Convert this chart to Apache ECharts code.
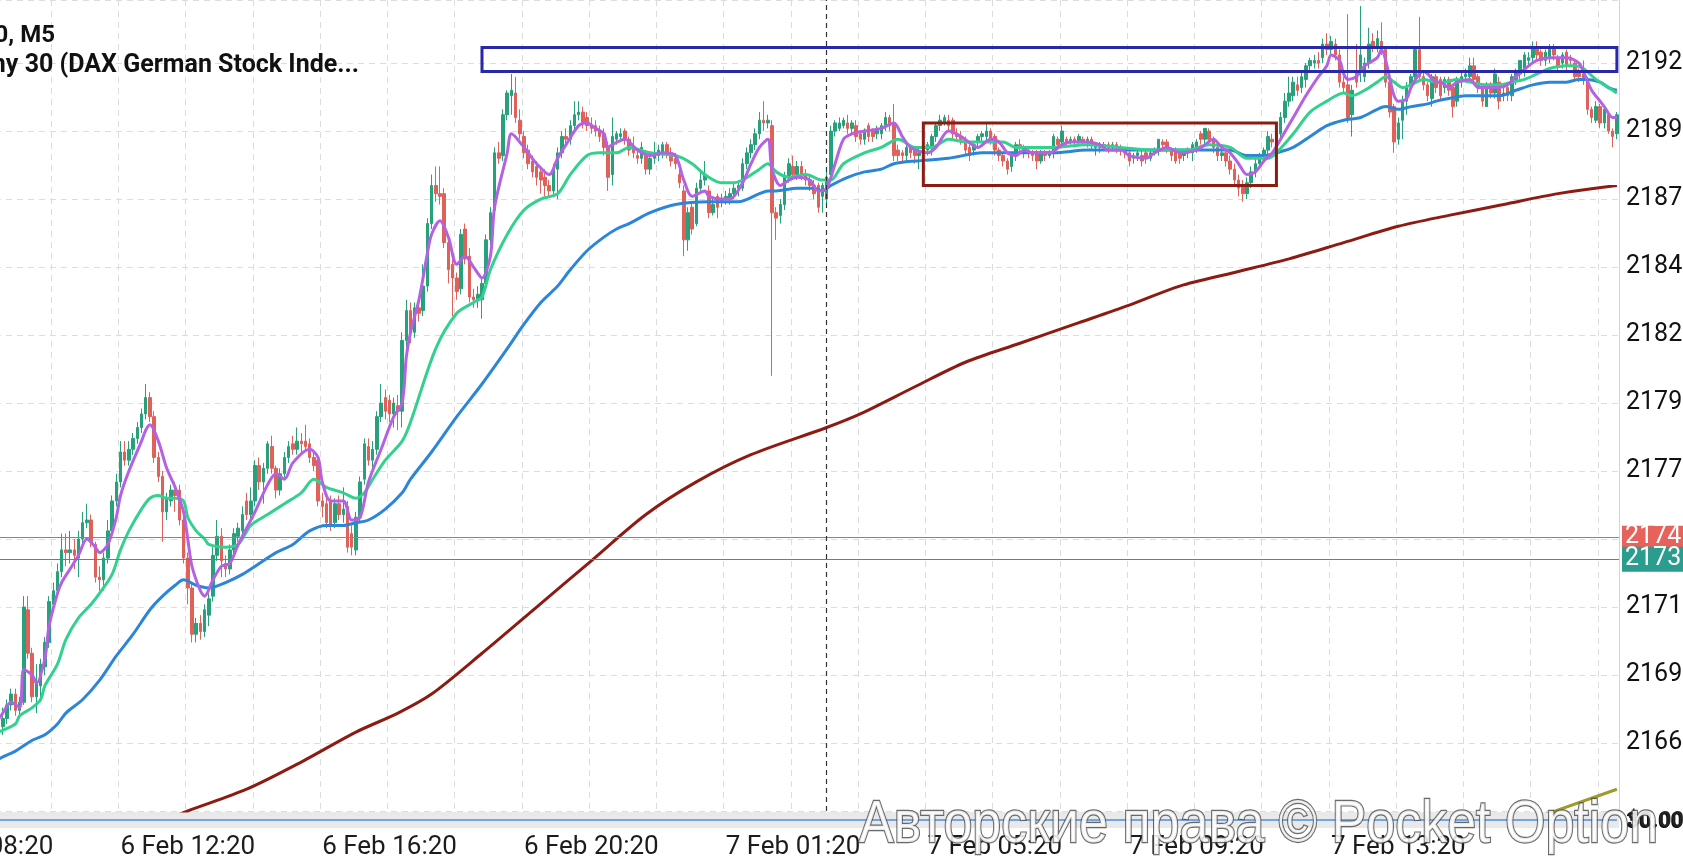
<!DOCTYPE html>
<html>
<head>
<meta charset="utf-8">
<script src="https://cdn.jsdelivr.net/npm/echarts@6/dist/echarts.min.js"></script>
<style>html,body{margin:0;padding:0;background:#fff;}#c{width:1683px;height:864px;}</style>
</head>
<body>
<div id="c"></div>
<script>
// ---- tick labels / annotations ----
const yTickValues = [21925,21900,21875,21850,21825,21800,21775,21750,21725,21700,21675];
const yTickLabels = ['2192','2189','2187','2184','2182','2179','2177','2174','2171','2169','2166'];
const priceLevels = [21750.7, 21742.6];
const priceTags = ['2174','2173'];
const blueZone = [21930.7, 21921.9];
const redZone = [21903, 21880];
const titleLines = ['GER30, M5', 'Germany 30 (DAX German Stock Inde...'];
const watermark = 'Авторские права © Pocket Option';
const crossIndex = 200;

// ---- candles [open, close, low, high], one array per 4h session ----
const s0820 = [[21690,21686,21683,21693],[21686,21682,21679,21688],[21682,21685,21678,21687],[21685,21681,21676,21688],[21681,21684,21678,21688],[21684,21689,21682,21691],[21689,21693,21687,21695],[21693,21687,21685,21695],[21687,21690,21684,21692],[21690,21725,21689,21729],
[21724,21708,21706,21729],[21708,21692,21690,21710],[21692,21697,21686,21704],[21696,21704,21690,21706],[21703,21712,21700,21714],[21712,21727,21710,21729],[21726,21731,21723,21734],[21731,21738,21729,21741],[21738,21746,21736,21752],[21746,21745,21740,21752],
[21745,21746,21741,21753],[21746,21744,21739,21750],[21743,21750,21736,21753],[21750,21756,21748,21760],[21756,21757,21754,21763],[21757,21749,21747,21759],[21748,21736,21734,21749],[21736,21735,21731,21740],[21735,21743,21731,21745],[21743,21753,21741,21757],
[21753,21764,21751,21766],[21764,21771,21762,21774],[21771,21782,21769,21786],[21782,21779,21777,21786],[21779,21783,21777,21786],[21783,21787,21781,21789],[21787,21791,21785,21793],[21791,21796,21789,21798],[21796,21802,21794,21807],[21802,21795,21793,21804],
[21795,21780,21778,21797],[21780,21773,21771,21782],[21773,21760,21749,21775],[21760,21765,21757,21767],[21764,21768,21762,21770],[21768,21766,21760,21771],[21768,21757,21755,21770],[21757,21743,21741,21759]];
const s1220 = [[21743,21732,21726,21745],[21732,21715,21712,21734],[21715,21719,21712,21721],[21719,21716,21713,21722],[21716,21724,21714,21726],[21722,21728,21718,21730],[21729,21744,21727,21747],[21744,21751,21742,21757],[21751,21742,21736,21754],[21741,21739,21736,21744],
[21739,21746,21737,21748],[21746,21752,21744,21754],[21751,21754,21749,21756],[21753,21759,21751,21762],[21764,21759,21757,21767],[21759,21764,21756,21769],[21764,21777,21762,21779],[21777,21771,21768,21780],[21771,21776,21763,21778],[21776,21785,21774,21786],
[21784,21776,21774,21788],[21776,21768,21765,21777],[21768,21774,21766,21776],[21774,21780,21772,21782],[21780,21784,21778,21786],[21785,21783,21781,21788],[21783,21786,21781,21791],[21786,21785,21782,21789],[21786,21784,21782,21792],[21785,21780,21778,21787],
[21780,21777,21775,21782],[21779,21764,21762,21781],[21764,21762,21758,21767],[21763,21756,21754,21765],[21764,21755,21753,21766],[21756,21763,21754,21765],[21763,21759,21757,21766],[21759,21761,21756,21769],[21762,21747,21745,21764],[21752,21747,21744,21755],
[21746,21758,21744,21760],[21758,21771,21756,21773],[21772,21785,21770,21787],[21784,21779,21777,21787],[21779,21783,21776,21786],[21783,21795,21781,21797],[21795,21800,21793,21807],[21802,21797,21794,21805]];
const s1620 = [[21801,21796,21793,21803],[21796,21800,21791,21802],[21799,21797,21790,21803],[21797,21823,21791,21826],[21823,21834,21820,21838],[21834,21826,21822,21837],[21826,21835,21824,21837],[21835,21833,21830,21838],[21834,21843,21832,21851],[21843,21866,21841,21868],
[21866,21880,21864,21884],[21880,21877,21874,21887],[21877,21876,21873,21887],[21877,21859,21857,21879],[21859,21849,21844,21861],[21851,21846,21832,21853],[21846,21841,21838,21848],[21842,21862,21840,21864],[21864,21853,21851,21866],[21854,21839,21837,21857],
[21839,21838,21835,21842],[21838,21840,21835,21843],[21838,21844,21831,21846],[21844,21860,21842,21862],[21860,21870,21858,21872],[21871,21892,21869,21894],[21892,21890,21888,21896],[21891,21906,21889,21908],[21906,21914,21904,21915],[21913,21915,21906,21921],
[21914,21905,21903,21920],[21904,21899,21897,21908],[21898,21892,21890,21900],[21893,21888,21886,21895],[21889,21885,21883,21891],[21887,21883,21880,21889],[21885,21882,21877,21887],[21883,21880,21876,21886],[21880,21878,21876,21882],[21878,21886,21876,21888],
[21886,21892,21875,21894],[21892,21898,21890,21900],[21898,21897,21895,21901],[21897,21902,21895,21904],[21902,21906,21900,21911],[21906,21907,21904,21911],[21907,21903,21901,21909],[21905,21902,21900,21907]];
const s2020 = [[21902,21901,21899,21905],[21902,21900,21898,21904],[21900,21898,21896,21902],[21899,21894,21891,21901],[21894,21883,21878,21896],[21884,21898,21880,21905],[21897,21899,21895,21900],[21898,21899,21896,21901],[21900,21897,21895,21901],[21897,21893,21891,21898],
[21894,21892,21890,21898],[21891,21890,21888,21893],[21890,21894,21888,21896],[21891,21886,21884,21893],[21886,21890,21884,21892],[21890,21892,21888,21896],[21891,21893,21889,21895],[21892,21895,21890,21896],[21895,21892,21890,21896],[21892,21889,21887,21894],
[21890,21888,21886,21892],[21884,21881,21879,21886],[21878,21860,21854,21880],[21860,21870,21856,21872],[21872,21864,21862,21874],[21866,21879,21865,21881],[21879,21882,21877,21885],[21882,21884,21880,21889],[21878,21870,21868,21880],[21870,21873,21869,21876],
[21876,21872,21868,21877],[21874,21875,21872,21877],[21875,21876,21873,21878],[21875,21877,21873,21879],[21877,21879,21875,21881],[21879,21880,21876,21882],[21879,21888,21878,21890],[21888,21892,21886,21894],[21892,21895,21890,21897],[21895,21899,21893,21901],
[21899,21904,21897,21907],[21904,21903,21900,21911],[21903,21904,21901,21906],[21902,21870,21810,21904],[21870,21868,21860,21872],[21869,21873,21866,21875],[21873,21883,21871,21885],[21883,21888,21881,21890]];
const s0120 = [[21887,21884,21882,21891],[21884,21887,21882,21889],[21887,21884,21882,21889],[21884,21882,21880,21886],[21882,21880,21878,21884],[21880,21877,21875,21882],[21880,21872,21870,21881],[21876,21880,21870,21881],[21875,21883,21873,21885],[21884,21900,21882,21902],
[21900,21903,21898,21904],[21901,21903,21900,21905],[21902,21904,21901,21905],[21903,21901,21899,21906],[21901,21903,21899,21904],[21902,21898,21896,21904],[21899,21897,21895,21900],[21897,21900,21895,21901],[21902,21898,21896,21903],[21900,21898,21896,21901],
[21899,21901,21897,21902],[21899,21902,21897,21903],[21902,21905,21900,21907],[21905,21902,21900,21906],[21903,21891,21889,21910],[21893,21891,21889,21895],[21892,21891,21889,21893],[21891,21894,21889,21896],[21894,21892,21890,21895],[21893,21891,21888,21894],
[21891,21892,21886,21894],[21892,21893,21890,21895],[21893,21895,21891,21896],[21894,21898,21891,21899],[21898,21902,21896,21903],[21902,21904,21900,21906],[21903,21905,21902,21906],[21904,21902,21900,21906],[21904,21899,21897,21905],[21899,21898,21896,21901],
[21898,21897,21895,21900],[21897,21893,21891,21898],[21894,21891,21889,21895],[21893,21895,21891,21896],[21896,21898,21894,21899],[21898,21899,21896,21900],[21898,21900,21896,21903],[21900,21897,21895,21901]];
const s0520 = [[21898,21893,21891,21899],[21893,21891,21889,21894],[21891,21889,21887,21892],[21889,21886,21884,21890],[21887,21891,21885,21892],[21891,21895,21889,21896],[21895,21894,21892,21897],[21894,21892,21890,21895],[21893,21892,21890,21894],[21892,21891,21889,21893],
[21892,21889,21886,21893],[21889,21892,21888,21893],[21892,21891,21889,21893],[21891,21892,21890,21893],[21892,21898,21890,21899],[21897,21895,21893,21898],[21896,21900,21894,21902],[21897,21896,21894,21898],[21896,21897,21895,21898],[21897,21896,21894,21898],
[21896,21898,21895,21899],[21897,21896,21895,21898],[21896,21897,21894,21898],[21897,21895,21893,21898],[21894,21895,21891,21896],[21895,21894,21892,21896],[21894,21895,21893,21896],[21895,21894,21892,21896],[21894,21895,21893,21896],[21895,21894,21892,21896],
[21894,21893,21891,21895],[21893,21892,21890,21894],[21892,21889,21887,21893],[21890,21891,21888,21892],[21891,21892,21889,21893],[21891,21889,21887,21893],[21892,21890,21888,21893],[21890,21892,21889,21893],[21892,21893,21891,21894],[21893,21897,21891,21897],
[21896,21895,21893,21897],[21896,21894,21892,21897],[21893,21891,21889,21894],[21893,21889,21888,21894],[21892,21890,21888,21893],[21891,21892,21889,21893],[21892,21893,21890,21894],[21892,21895,21889,21896]];
const s0920 = [[21894,21896,21892,21897],[21899,21897,21895,21900],[21897,21901,21895,21901],[21900,21897,21895,21901],[21897,21894,21892,21898],[21894,21891,21889,21895],[21891,21892,21889,21893],[21892,21889,21887,21893],[21889,21886,21884,21891],[21886,21882,21880,21888],
[21882,21879,21876,21884],[21880,21877,21874,21882],[21877,21881,21875,21883],[21881,21885,21879,21887],[21885,21888,21883,21890],[21888,21891,21886,21892],[21891,21893,21889,21894],[21893,21898,21891,21900],[21897,21896,21894,21899],[21896,21899,21894,21901],
[21899,21905,21897,21907],[21905,21911,21903,21914],[21911,21914,21909,21920],[21913,21918,21911,21920],[21917,21915,21913,21920],[21916,21920,21914,21922],[21919,21924,21916,21925],[21924,21926,21922,21927],[21925,21926,21923,21928],[21926,21925,21923,21929],
[21927,21932,21925,21934],[21932,21930,21928,21936],[21930,21933,21928,21935],[21932,21928,21926,21934],[21928,21918,21916,21930],[21918,21916,21914,21920],[21917,21905,21903,21943],[21906,21915,21898,21917],[21922,21918,21916,21932],[21922,21928,21918,21946],
[21920,21925,21918,21927],[21925,21932,21923,21938],[21933,21931,21929,21936],[21931,21934,21929,21937],[21933,21930,21928,21940],[21930,21918,21916,21931],[21918,21907,21905,21920],[21909,21896,21892,21910]];
const s1320 = [[21897,21903,21895,21905],[21904,21911,21897,21913],[21911,21916,21906,21918],[21917,21920,21915,21921],[21920,21930,21918,21931],[21930,21920,21918,21942],[21920,21917,21915,21922],[21917,21913,21911,21918],[21912,21920,21909,21921],[21920,21916,21914,21921],
[21919,21913,21911,21920],[21916,21919,21914,21920],[21919,21915,21913,21920],[21916,21909,21905,21917],[21911,21919,21909,21920],[21918,21920,21916,21922],[21920,21921,21918,21923],[21920,21924,21918,21927],[21924,21919,21917,21927],[21920,21916,21914,21921],
[21916,21911,21909,21917],[21909,21916,21909,21918],[21916,21914,21912,21918],[21914,21921,21912,21923],[21918,21911,21908,21920],[21913,21914,21911,21916],[21916,21913,21911,21918],[21913,21920,21911,21921],[21919,21922,21917,21923],[21921,21926,21919,21926],
[21922,21928,21920,21929],[21926,21927,21924,21929],[21927,21931,21925,21933],[21931,21928,21926,21933],[21929,21926,21924,21930],[21926,21929,21924,21930],[21927,21931,21925,21932],[21931,21928,21926,21932],[21927,21924,21922,21928],[21925,21928,21923,21929],
[21929,21924,21922,21930],[21927,21926,21924,21928],[21925,21920,21918,21926],[21922,21920,21918,21923],[21921,21919,21917,21926],[21919,21908,21906,21920],[21908,21905,21903,21909],[21904,21909,21903,21911],[21909,21903,21901,21910],[21903,21908,21901,21909],
[21906,21900,21899,21907],[21900,21898,21894,21901],[21899,21906,21897,21907]];

// ---- moving averages as [candle index, value] ----
const maFast = [[0,21683],[3,21684],[6,21690],[8,21688],[9,21702],[11,21700],[12,21697],[14,21706],[15,21718],[17,21730],[18,21734],[20,21739],[22,21744],[24,21750],[26,21747],[27,21745],[29,21748],[31,21758],[32,21766],[34,21775],[37,21786],[38,21790],[39,21792],[41,21786],[43,21776],[45,21769],[47,21760],[48,21750],[49,21740],[51,21731],[52,21729],[54,21735],[56,21740],[58,21741],[60,21748],[64,21760],[67,21770],[69,21774],[71,21772],[73,21778],[77,21783],[79,21780],[80,21771],[82,21764],[85,21764],[87,21757],[89,21758],[91,21771],[94,21783],[97,21795],[99,21800],[100,21817],[101,21826],[103,21838],[105,21855],[106,21862],[108,21867],[110,21861],[112,21851],[114,21854],[116,21850],[118,21846],[120,21854],[121,21872],[124,21892],[125,21899],[128,21894],[131,21888],[134,21884],[136,21890],[138,21895],[141,21902],[143,21903],[145,21901],[147,21899],[148,21894],[149,21895],[152,21897],[155,21893],[158,21891],[161,21892],[164,21891],[166,21882],[168,21876],[171,21878],[172,21876],[175,21875],[177,21875],[180,21881],[182,21888],[184,21894],[186,21897],[187,21886],[189,21880],[191,21882],[193,21883],[196,21882],[198,21878],[200,21879],[202,21888],[204,21897],[206,21899],[209,21900],[213,21901],[216,21903],[218,21898],[220,21894],[224,21892],[226,21894],[229,21900],[232,21898],[236,21894],[239,21897],[241,21896],[243,21892],[245,21891],[247,21893],[249,21892],[253,21892],[256,21895],[258,21896],[262,21896],[265,21895],[267,21893],[270,21893],[272,21891],[276,21890],[278,21892],[281,21894],[284,21892],[288,21893],[290,21895],[292,21897],[294,21894],[296,21892],[298,21888],[300,21884],[302,21885],[304,21889],[306,21892],[308,21897],[311,21905],[314,21913],[317,21920],[319,21924],[320,21928],[322,21926],[323,21921],[324,21919],[326,21920],[328,21924],[331,21927],[332,21930],[333,21926],[334,21919],[335,21913],[336,21911],[338,21912],[339,21916],[341,21921],[342,21922],[343,21921],[345,21918],[346,21918],[348,21916],[350,21918],[353,21919],[355,21916],[357,21916],[360,21916],[362,21917],[364,21920],[367,21924],[369,21926],[372,21927],[374,21927],[376,21927],[379,21925],[380,21922],[382,21915],[384,21911],[385,21909],[387,21905],[388,21905]];
const maMid = [[0,21676],[3,21679],[7,21682],[8,21685],[11,21688],[13,21691],[14,21696],[17,21704],[19,21713],[22,21721],[25,21726],[27,21730],[30,21737],[32,21746],[34,21753],[37,21761],[39,21765],[41,21766],[43,21765],[45,21765],[47,21764],[48,21758],[50,21753],[52,21750],[53,21748],[57,21747],[60,21748],[63,21755],[67,21759],[71,21763],[75,21767],[78,21772],[81,21769],[85,21767],[88,21765],[90,21767],[92,21772],[95,21779],[99,21786],[101,21793],[107,21820],[112,21833],[116,21837],[118,21839],[120,21849],[124,21862],[128,21871],[132,21875],[136,21877],[139,21884],[143,21891],[146,21892],[150,21892],[153,21894],[158,21892],[164,21891],[168,21888],[171,21884],[175,21881],[178,21881],[180,21882],[184,21886],[186,21888],[188,21885],[191,21883],[195,21884],[199,21882],[201,21882],[204,21888],[209,21892],[213,21894],[217,21897],[221,21894],[225,21894],[229,21897],[233,21896],[237,21896],[242,21896],[245,21894],[247,21894],[254,21894],[262,21895],[270,21894],[278,21893],[286,21893],[291,21895],[296,21894],[300,21890],[305,21890],[307,21892],[311,21899],[315,21907],[319,21911],[323,21914],[325,21913],[328,21915],[331,21918],[333,21920],[335,21918],[337,21916],[339,21917],[342,21919],[345,21918],[347,21918],[350,21919],[353,21918],[357,21917],[360,21917],[363,21918],[366,21919],[369,21921],[372,21923],[376,21924],[378,21924],[380,21923],[383,21919],[385,21917],[387,21915],[388,21914]];
const maSlow = [[0,21665],[3,21669],[7,21672],[11,21676],[14,21678],[17,21682],[19,21686],[23,21691],[27,21698],[31,21707],[35,21715],[39,21724],[42,21729],[45,21733],[47,21735],[50,21733],[53,21732],[57,21734],[61,21737],[65,21741],[69,21745],[73,21748],[77,21753],[81,21755],[85,21755],[88,21756],[91,21757],[95,21761],[99,21767],[101,21772],[106,21782],[112,21795],[118,21807],[124,21820],[128,21829],[132,21837],[136,21843],[139,21849],[143,21856],[147,21861],[150,21864],[153,21866],[158,21870],[164,21873],[172,21874],[179,21874],[184,21877],[186,21878],[188,21878],[193,21879],[197,21879],[199,21878],[201,21880],[205,21883],[209,21885],[213,21886],[216,21888],[221,21889],[229,21890],[237,21892],[242,21892],[247,21892],[254,21892],[262,21893],[270,21893],[278,21893],[286,21893],[294,21893],[296,21893],[300,21891],[304,21891],[307,21892],[311,21894],[315,21898],[319,21902],[323,21904],[327,21905],[331,21908],[333,21909],[336,21908],[339,21909],[343,21910],[345,21911],[348,21912],[352,21913],[356,21913],[360,21913],[364,21915],[368,21917],[372,21918],[376,21918],[379,21919],[381,21919],[384,21918],[386,21916],[388,21915]];
const maLong = [[0,21622],[20,21634],[40,21645],[48,21650],[62,21658],[75,21668],[88,21679],[98,21686],[106,21693],[118,21708],[131,21725],[144,21742],[157,21759],[169,21771],[182,21781],[200,21791],[208,21796],[221,21806],[233,21815],[246,21822],[259,21829],[272,21836],[284,21843],[297,21848],[310,21853],[323,21859],[336,21865],[348,21869],[361,21873],[374,21877],[388,21880]];
const oliveLine = [[366,21646],[388,21658]];
const lowerPane = [[0,0.5],[388,0.5]];

// ---- categories (5-minute bars, market break 23:00-00:00) ----
const categories = [];
(function () {
  const pad = n => (n < 10 ? '0' : '') + n;
  let d = 6, h = 8, m = 20;
  const total = s0820.length + s1220.length + s1620.length + s2020.length + s0120.length + s0520.length + s0920.length + s1320.length;
  for (let i = 0; i < total; i++) {
    categories.push(d + ' Feb ' + pad(h) + ':' + pad(m));
    m += 5;
    if (m === 60) { m = 0; h += 1; if (h === 23) { h = 0; d += 1; } }
  }
})();
const candles = [].concat(s0820, s1220, s1620, s2020, s0120, s0520, s0920, s1320);

const chart = echarts.init(document.getElementById('c'), null, { renderer: 'canvas' });
const FONT = 'Roboto, "Noto Sans", sans-serif';
const gridLine = { color: '#dcdcdc', type: [6, 5], width: 1 };

chart.setOption({
  animation: false,
  backgroundColor: '#ffffff',
  grid: [
    { left: -16.1, right: 64, top: 0, height: 811, containLabel: false, outerBoundsMode: 'none' },
    { left: -16.1, right: 64, top: 812, height: 16, show: true, backgroundColor: '#e9e9e9', borderWidth: 0, containLabel: false, outerBoundsMode: 'none' }
  ],
  xAxis: [
    { type: 'category', gridIndex: 0, data: categories, boundaryGap: true,
      axisLine: { show: false }, axisTick: { show: false }, axisLabel: { show: false },
      splitLine: { show: true, interval: (i) => i % 16 === 0, lineStyle: gridLine } },
    { type: 'category', gridIndex: 1, data: categories, boundaryGap: true,
      axisLine: { show: false }, axisTick: { show: false }, splitLine: { show: false },
      axisLabel: { show: true, interval: (i) => i % 48 === 0 && i <= 336, fontSize: 26, color: '#1c1c1c', fontFamily: FONT, margin: 6 } }
  ],
  yAxis: [
    { type: 'value', gridIndex: 0, position: 'right', min: 21650, max: 21948.2, interval: 25, scale: true,
      axisLine: { show: true, lineStyle: { color: '#d4d4d4' } }, axisTick: { show: false },
      axisLabel: { fontSize: 25, color: '#111', fontFamily: FONT, margin: 7, showMinLabel: false, showMaxLabel: false,
        formatter: (v) => { const k = yTickValues.indexOf(Math.round(v * 10) / 10); return k >= 0 ? yTickLabels[k] : ''; } },
      splitLine: { show: true, lineStyle: gridLine } },
    { type: 'value', gridIndex: 1, min: 0, max: 1, show: false }
  ],
  series: [
    { type: 'candlestick', xAxisIndex: 0, yAxisIndex: 0, data: candles, barWidth: 3, z: 2,
      itemStyle: { color: '#26a17b', color0: '#e0605a', borderColor: '#26a17b', borderColor0: '#e0605a', borderWidth: 1 },
      markLine: { symbol: ['none', 'none'], silent: true, animation: false, z: 5,
        data: [
          { yAxis: priceLevels[0], lineStyle: { color: '#e0605a', width: 1, type: 'solid' },
            label: { show: true, position: 'end', formatter: priceTags[0], color: '#fff', backgroundColor: '#e8625c', fontSize: 25, fontFamily: FONT, lineHeight: 23, padding: [0, 14, 0, 3], distance: 3 } },
          { yAxis: priceLevels[1], lineStyle: { color: '#2a9d8f', width: 1, type: 'solid' },
            label: { show: true, position: 'end', formatter: priceTags[1], color: '#fff', backgroundColor: '#2a9d8f', fontSize: 25, fontFamily: FONT, lineHeight: 25, padding: [0, 14, 0, 3], distance: 3 } },
          { xAxis: categories[crossIndex], lineStyle: { color: '#333', width: 1.2, type: [5, 4] }, label: { show: false } }
        ] },
      markArea: { silent: true, z: 4,
        data: [
          [ { xAxis: categories[118], yAxis: blueZone[0], itemStyle: { color: 'rgba(0,0,0,0)', borderColor: '#2828aa', borderWidth: 3 } },
            { xAxis: categories[388], yAxis: blueZone[1] } ],
          [ { xAxis: categories[223], yAxis: redZone[0], itemStyle: { color: 'rgba(0,0,0,0)', borderColor: '#8b1c14', borderWidth: 3 } },
            { xAxis: categories[307], yAxis: redZone[1] } ]
        ] } },
    { type: 'line', xAxisIndex: 0, yAxisIndex: 0, data: maLong, showSymbol: false, smooth: 0.3, z: 3, lineStyle: { color: '#8c1c13', width: 3 } },
    { type: 'line', xAxisIndex: 0, yAxisIndex: 0, data: oliveLine, showSymbol: false, z: 3, lineStyle: { color: '#9c9c28', width: 3 } },
    { type: 'line', xAxisIndex: 0, yAxisIndex: 0, data: maSlow, showSymbol: false, smooth: 0.3, z: 3, lineStyle: { color: '#2b86d8', width: 3 } },
    { type: 'line', xAxisIndex: 0, yAxisIndex: 0, data: maMid, showSymbol: false, smooth: 0.3, z: 3, lineStyle: { color: '#33d08e', width: 3 } },
    { type: 'line', xAxisIndex: 0, yAxisIndex: 0, data: maFast, showSymbol: false, smooth: 0.3, z: 3, lineStyle: { color: '#b462e2', width: 3 } },
    { type: 'line', xAxisIndex: 1, yAxisIndex: 1, data: lowerPane, showSymbol: false, z: 3, lineStyle: { color: '#4a8fdc', width: 1.5 } }
  ],
  graphic: [
    { type: 'text', x: 55, y: 36, z: 50, style: { text: titleLines[0], font: 'bold 24px ' + FONT, fill: '#111', textAlign: 'right', align: 'right', textVerticalAlign: 'middle', verticalAlign: 'middle' } },
    { type: 'text', x: 359, y: 66, z: 50, style: { text: titleLines[1], font: 'bold 25px ' + FONT, fill: '#111', textAlign: 'right', align: 'right', textVerticalAlign: 'middle', verticalAlign: 'middle' } },
    { type: 'text', x: 1626, y: 822, z: 50, style: { text: '30.00', font: 'bold 22px ' + FONT, fill: '#111', textVerticalAlign: 'middle', verticalAlign: 'middle' } },
    { type: 'text', x: 1627, y: 821, z: 50, style: { text: '$0.00', font: 'bold 22px ' + FONT, fill: '#222', textVerticalAlign: 'middle', verticalAlign: 'middle' } },
    { type: 'text', x: 859, y: 826, z: 100, scaleY: 1.15, style: { text: watermark, font: '52px "Liberation Sans", Arial, sans-serif', fill: 'rgba(255,255,255,0.85)', stroke: 'rgba(70,70,70,0.8)', lineWidth: 2, textVerticalAlign: 'middle', verticalAlign: 'middle' } }
  ]
});
</script>
</body>
</html>
